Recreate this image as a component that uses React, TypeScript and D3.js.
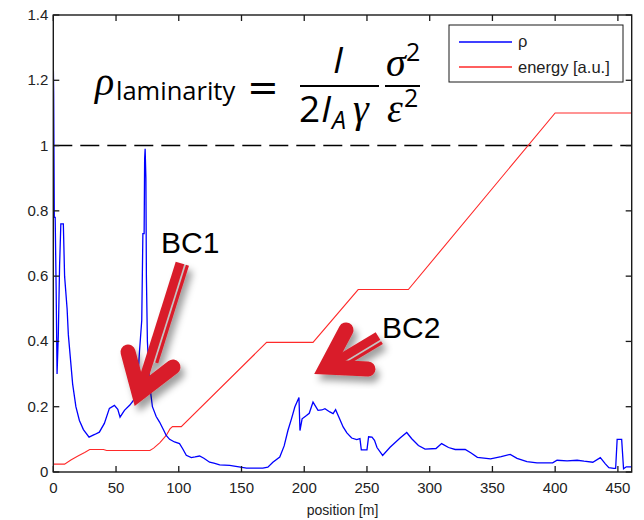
import React from "react";
import * as d3 from "d3";

const rhoPos = [0, 0.3, 0.8, 1.5, 2.3, 3.0, 4.0, 5.0, 6.0, 8.0, 9.0, 11.0, 12.0, 15.4, 18, 20.8, 24, 28.5, 33, 36.7, 40.7, 44.7, 48.7, 51.4, 53.2, 56.7, 61, 64, 67, 68.7, 70.5, 71.4, 72.4, 72.8, 73.2, 73.8, 74.2, 75, 76.7, 79, 82, 84.7, 88, 90, 92.7, 96.6, 100.6, 103, 106, 110, 113, 116.6, 120, 124.6, 128, 132.6, 140.6, 143, 148, 154, 160, 167, 171, 175, 180.5, 184, 187, 190, 192.5, 195.8, 196.6, 198.3, 201.8, 204, 207, 211, 214, 216.5, 220.4, 223, 225, 228, 231, 234, 237.8, 241.8, 244.4, 245.5, 250, 251.3, 254, 256, 258, 262.5, 268.4, 276.4, 281.7, 285.7, 291, 296.3, 305, 309.5, 315, 320.3, 328.3, 333, 338, 348.5, 357, 364.2, 369.6, 377.5, 385.5, 398, 401.5, 409.5, 417.5, 423, 430, 436, 440, 442.8, 446.7, 448.2, 449.4, 453, 454.5, 456.7, 461];
const rhoVal = [1.25, 1.16, 0.78, 0.78, 0.55, 0.30, 0.42, 0.63, 0.76, 0.76, 0.60, 0.50, 0.42, 0.27, 0.20, 0.158, 0.13, 0.107, 0.115, 0.122, 0.149, 0.195, 0.204, 0.192, 0.168, 0.189, 0.205, 0.22, 0.26, 0.37, 0.465, 0.73, 0.73, 0.96, 0.99, 0.90, 0.60, 0.40, 0.27, 0.20, 0.17, 0.153, 0.128, 0.112, 0.10, 0.092, 0.087, 0.072, 0.051, 0.044, 0.046, 0.049, 0.042, 0.030, 0.027, 0.022, 0.020, 0.019, 0.016, 0.012, 0.012, 0.012, 0.015, 0.030, 0.046, 0.08, 0.127, 0.165, 0.199, 0.228, 0.127, 0.163, 0.173, 0.18, 0.214, 0.189, 0.19, 0.194, 0.184, 0.179, 0.191, 0.165, 0.138, 0.12, 0.104, 0.099, 0.102, 0.068, 0.068, 0.108, 0.107, 0.097, 0.075, 0.051, 0.076, 0.104, 0.121, 0.102, 0.081, 0.070, 0.072, 0.087, 0.075, 0.069, 0.069, 0.058, 0.045, 0.040, 0.047, 0.054, 0.042, 0.032, 0.028, 0.028, 0.036, 0.034, 0.036, 0.033, 0.030, 0.044, 0.025, 0.013, 0.011, 0.011, 0.10, 0.10, 0.01, 0.016, 0.016];

const energyPos = [0, 9, 14, 20, 25, 29, 40, 42.5, 77, 80, 85, 90, 93, 95, 102, 170, 207, 243, 283, 400, 461];
const energyVal = [0.024, 0.024, 0.037, 0.05, 0.06, 0.069, 0.069, 0.066, 0.066, 0.073, 0.09, 0.112, 0.132, 0.139, 0.139, 0.397, 0.397, 0.559, 0.559, 1.10, 1.10];

const xTicks = [0, 50, 100, 150, 200, 250, 300, 350, 400, 450];
const yTicks = [0, 0.2, 0.4, 0.6, 0.8, 1, 1.2, 1.4];
const yTickLabels = ["0", "0.2", "0.4", "0.6", "0.8", "1", "1.2", "1.4"];
const legendLabels = ["ρ", "energy [a.u.]"];
const xLabel = "position [m]";
const annotations = ["BC1", "BC2"];

const W = 644, H = 520;
const L = 53.3, R = 631.7, T = 15, B = 472;
const ARROW_RED = "#d91f2a";

type P = [number, number];

function norm(p: P): P {
  const l = Math.hypot(p[0], p[1]) || 1;
  return [p[0] / l, p[1] / l];
}

function Arrow({ tip, armA, armB, tail }: { tip: P; armA: P; armB: P; tail: P }) {
  const w = 15;
  const ua = norm([armA[0] - tip[0], armA[1] - tip[1]]);
  const ub = norm([armB[0] - tip[0], armB[1] - tip[1]]);
  const cos = ua[0] * ub[0] + ua[1] * ub[1];
  const half = Math.acos(Math.max(-1, Math.min(1, cos))) / 2;
  const ext = w / 2 / Math.sin(half);
  const bis = norm([ua[0] + ub[0], ua[1] + ub[1]]);
  const v: P = [tip[0] + bis[0] * ext, tip[1] + bis[1] * ext];
  const d = norm([tail[0] - v[0], tail[1] - v[1]]);
  const perp: P = [-d[1], d[0]];
  const off = (p: P, k: number): P => [p[0] + perp[0] * k, p[1] + perp[1] * k];
  const mid: P = [v[0] + (tail[0] - v[0]) * 0.25, v[1] + (tail[1] - v[1]) * 0.25];
  const ln = (a: P, b: P) => `M${a[0]},${a[1]}L${b[0]},${b[1]}`;
  return (
    <g filter="url(#shadow)">
      <path d={ln(off(mid, 5.3), off(tail, 5.3))} stroke="#c4c4c4" strokeWidth={2} fill="none" />
      <path d={ln(off(mid, 7.8), off(tail, 7.8))} stroke={ARROW_RED} strokeWidth={3.2} fill="none" />
      <path d={ln(v, tail)} stroke={ARROW_RED} strokeWidth={9} fill="none" />
      <path
        d={`M${armA[0]},${armA[1]}L${v[0]},${v[1]}L${armB[0]},${armB[1]}`}
        stroke={ARROW_RED}
        strokeWidth={w}
        strokeLinejoin="miter"
        strokeMiterlimit={10}
        strokeLinecap="round"
        fill="none"
      />
    </g>
  );
}

export default function App() {
  const x = d3.scaleLinear().domain([0, 461]).range([L, R]);
  const y = d3.scaleLinear().domain([0, 1.4]).range([B, T]);

  const rhoData = rhoPos.map((p, i) => [p, rhoVal[i]] as [number, number]);
  const enData = energyPos.map((p, i) => [p, energyVal[i]] as [number, number]);
  const line = d3
    .line<[number, number]>()
    .x((d) => x(d[0]))
    .y((d) => y(d[1]));

  const tickFont = "'Liberation Sans', Arial, sans-serif";
  const greek = "'Liberation Serif', 'DejaVu Serif', serif";
  const sans = "'Open Sans', 'DejaVu Sans', sans-serif";

  return (
    <svg width={W} height={H} style={{ position: "absolute", left: 0, top: 0 }} xmlns="http://www.w3.org/2000/svg">
      <defs>
        <clipPath id="plot">
          <rect x={L} y={T} width={R - L} height={B - T} />
        </clipPath>
        <filter id="shadow" x="-50%" y="-50%" width="200%" height="200%">
          <feDropShadow dx={4} dy={6} stdDeviation={3.5} floodColor="#000" floodOpacity={0.38} />
        </filter>
      </defs>
      <rect x={0} y={0} width={W} height={H} fill="#fff" />

      <line x1={L} x2={R} y1={y(1)} y2={y(1)} stroke="#000" strokeWidth={1.4} strokeDasharray="19,8" />

      <g clipPath="url(#plot)">
        <path d={line(enData) || ""} fill="none" stroke="#ff2a2a" strokeWidth={1.1} />
        <path d={line(rhoData) || ""} fill="none" stroke="#0000ff" strokeWidth={1.3} />
      </g>

      <rect x={L} y={T} width={R - L} height={B - T} fill="none" stroke="#1a1a1a" strokeWidth={1.4} />
      {xTicks.map((t) => (
        <g key={"x" + t}>
          <line x1={x(t)} x2={x(t)} y1={B} y2={B - 6} stroke="#1a1a1a" strokeWidth={1.3} />
          <line x1={x(t)} x2={x(t)} y1={T} y2={T + 6} stroke="#1a1a1a" strokeWidth={1.3} />
          <text x={x(t)} y={B + 21} textAnchor="middle" fontFamily={tickFont} fontSize={15} fill="#222">
            {t}
          </text>
        </g>
      ))}
      {yTicks.map((t, i) => (
        <g key={"y" + t}>
          <line x1={L} x2={L + 6} y1={y(t)} y2={y(t)} stroke="#1a1a1a" strokeWidth={1.3} />
          <line x1={R} x2={R - 6} y1={y(t)} y2={y(t)} stroke="#1a1a1a" strokeWidth={1.3} />
          <text x={L - 5} y={y(t) + 5} textAnchor="end" fontFamily={tickFont} fontSize={15} fill="#222">
            {yTickLabels[i]}
          </text>
        </g>
      ))}
      <text x={(L + R) / 2} y={515} textAnchor="middle" fontFamily={tickFont} fontSize={14} fill="#222">
        {xLabel}
      </text>

      <g>
        <rect x={449} y={25} width={174} height={57} fill="#fff" stroke="#1a1a1a" strokeWidth={1} />
        <line x1={459} x2={512} y1={42} y2={42} stroke="#0000ff" strokeWidth={1.3} />
        <text x={518} y={47} fontFamily={tickFont} fontSize={16.5} fill="#222">
          {legendLabels[0]}
        </text>
        <line x1={459} x2={512} y1={67} y2={67} stroke="#ff2a2a" strokeWidth={1.3} />
        <text x={518} y={73} fontFamily={tickFont} fontSize={16.5} fill="#222">
          {legendLabels[1]}
        </text>
      </g>

      <g fill="#000">
        <text x={95} y={95} fontFamily={greek} fontStyle="italic" fontSize={40}>ρ</text>
        <text x={116} y={100} fontFamily={sans} fontSize={25.5}>laminarity</text>
        <text x={247} y={100} fontFamily="'DejaVu Sans', sans-serif" fontSize={38}>=</text>
        <line x1={300} x2={379} y1={86} y2={86} stroke="#000" strokeWidth={2} />
        <text x={333} y={73} fontFamily={sans} fontStyle="italic" fontSize={37}>I</text>
        <text x={299} y={122} fontFamily={sans} fontSize={37}>2</text>
        <text x={321} y={122} fontFamily={sans} fontStyle="italic" fontSize={37}>I</text>
        <text x={332} y={129} fontFamily={sans} fontStyle="italic" fontSize={25}>A</text>
        <text x={353} y={122} fontFamily={greek} fontStyle="italic" fontSize={40}>γ</text>
        <line x1={385} x2={420} y1={86} y2={86} stroke="#000" strokeWidth={2} />
        <text x={386} y={76} fontFamily={greek} fontStyle="italic" fontSize={40}>σ</text>
        <text x={406} y={61} fontFamily={sans} fontSize={25}>2</text>
        <text x={387} y={122} fontFamily={greek} fontStyle="italic" fontSize={40}>ε</text>
        <text x={404} y={107} fontFamily={sans} fontSize={25}>2</text>
      </g>

      <Arrow tip={[133, 411]} armA={[128, 352]} armB={[173, 367]} tail={[180, 263]} />
      <Arrow tip={[309, 377]} armA={[346, 330]} armB={[368, 369]} tail={[378, 336]} />
      <text x={161} y={253} fontFamily={tickFont} fontSize={30} fill="#000">{annotations[0]}</text>
      <text x={382} y={338} fontFamily={tickFont} fontSize={30} fill="#000">{annotations[1]}</text>
    </svg>
  );
}
